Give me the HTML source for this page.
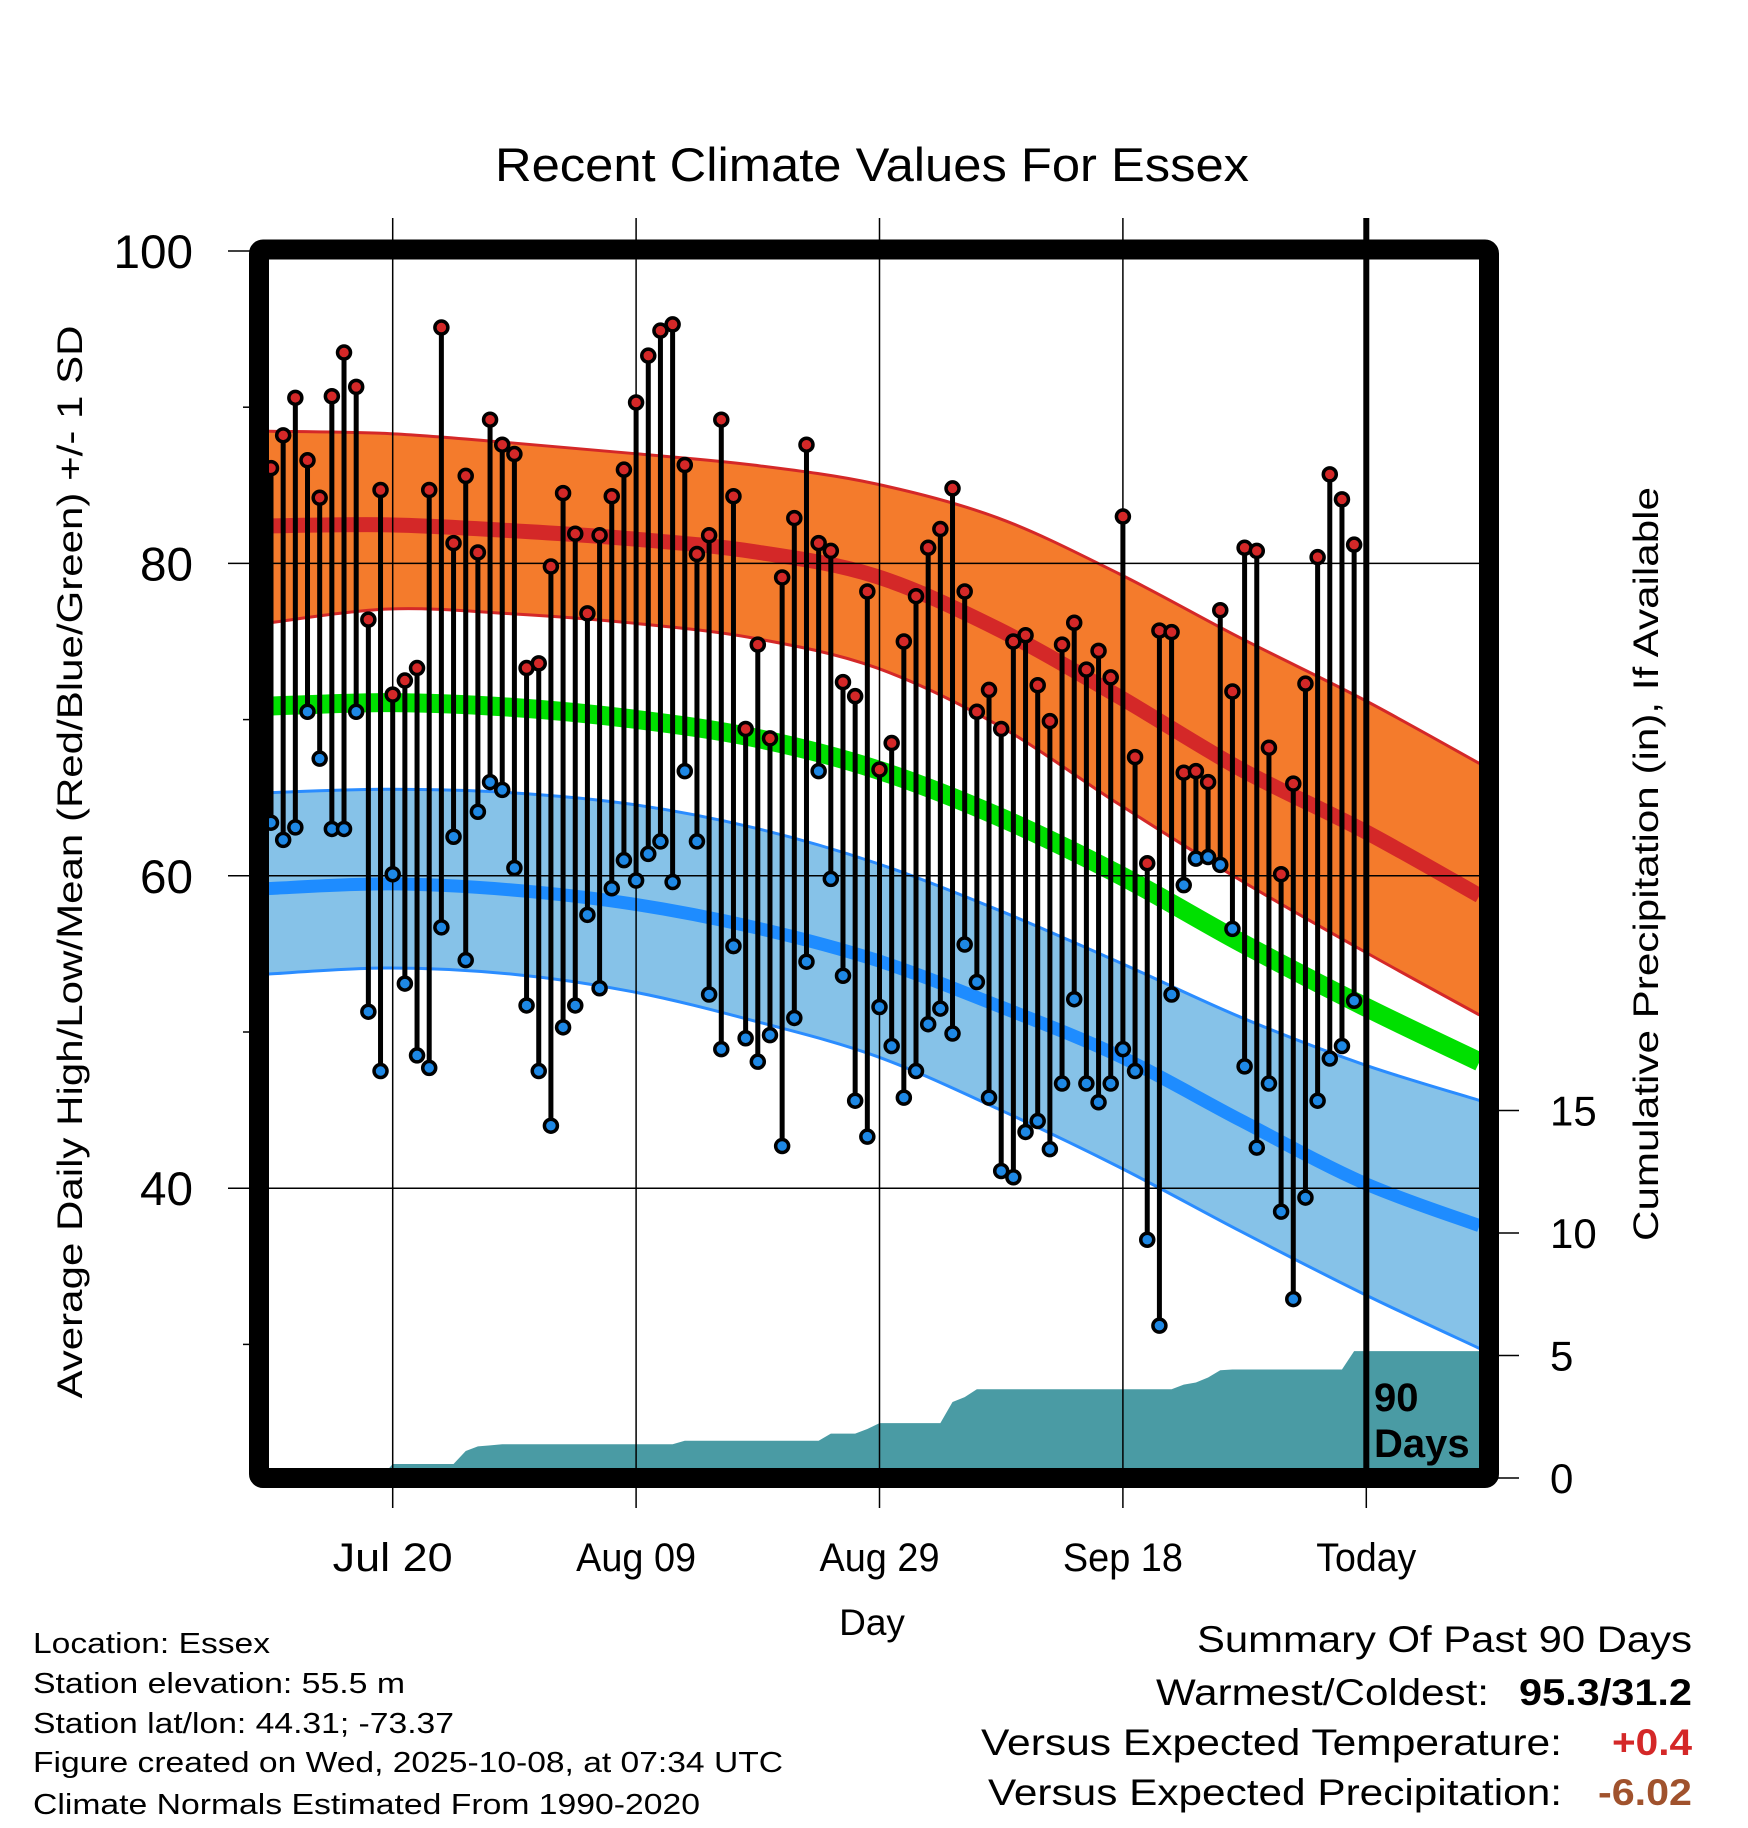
<!DOCTYPE html>
<html><head><meta charset="utf-8"><style>
html,body{margin:0;padding:0;background:#fff;}
svg{display:block;font-family:"Liberation Sans",Arial,sans-serif;}
</style></head><body>
<svg id="chart" width="1748" height="1828" viewBox="0 0 1748 1828" xmlns="http://www.w3.org/2000/svg">
<defs><clipPath id="plotclip"><rect x="269" y="260" width="1210" height="1208"/></clipPath></defs>
<rect x="0" y="0" width="1748" height="1828" fill="#fff"/>
<text x="872" y="181" font-size="47" text-anchor="middle" textLength="754" lengthAdjust="spacingAndGlyphs">Recent Climate Values For Essex</text>
<g id="bands" clip-path="url(#plotclip)"></g>
<g id="grid"></g>
<g id="marks" clip-path="url(#plotclip)"></g>
<g id="axes"></g>
<text transform="translate(82,862) rotate(-90)" font-size="35" text-anchor="middle" textLength="1073" lengthAdjust="spacingAndGlyphs">Average Daily High/Low/Mean (Red/Blue/Green) +/- 1 SD</text>
<text transform="translate(1658,864) rotate(-90)" font-size="35" text-anchor="middle" textLength="754" lengthAdjust="spacingAndGlyphs">Cumulative Precipitation (in), If Available</text>
<text x="872" y="1635" font-size="37" text-anchor="middle">Day</text>
<g font-size="29">
<text x="33" y="1653" textLength="237" lengthAdjust="spacingAndGlyphs">Location: Essex</text>
<text x="33" y="1693" textLength="372" lengthAdjust="spacingAndGlyphs">Station elevation: 55.5 m</text>
<text x="33" y="1733" textLength="421" lengthAdjust="spacingAndGlyphs">Station lat/lon: 44.31; -73.37</text>
<text x="33" y="1772" textLength="750" lengthAdjust="spacingAndGlyphs">Figure created on Wed, 2025-10-08, at 07:34 UTC</text>
<text x="33" y="1814" textLength="667" lengthAdjust="spacingAndGlyphs">Climate Normals Estimated From 1990-2020</text>
</g>
<g font-size="37">
<text x="1692" y="1652" text-anchor="end" textLength="495" lengthAdjust="spacingAndGlyphs">Summary Of Past 90 Days</text>
<text x="1489" y="1705" text-anchor="end" textLength="333" lengthAdjust="spacingAndGlyphs">Warmest/Coldest:</text>
<text x="1692" y="1705" text-anchor="end" font-weight="bold" textLength="173" lengthAdjust="spacingAndGlyphs">95.3/31.2</text>
<text x="1562" y="1755" text-anchor="end" textLength="581" lengthAdjust="spacingAndGlyphs">Versus Expected Temperature:</text>
<text x="1692" y="1755" text-anchor="end" font-weight="bold" fill="#d42828" textLength="80" lengthAdjust="spacingAndGlyphs">+0.4</text>
<text x="1562" y="1805" text-anchor="end" textLength="574" lengthAdjust="spacingAndGlyphs">Versus Expected Precipitation:</text>
<text x="1692" y="1805" text-anchor="end" font-weight="bold" fill="#a0522d" textLength="94" lengthAdjust="spacingAndGlyphs">-6.02</text>
</g>
</svg>
<script>
// ---- data ----
const highs = [86.1,88.2,90.6,86.6,84.2,90.7,93.5,91.3,76.4,84.7,71.6,72.5,73.3,84.7,95.1,81.3,85.6,80.7,89.2,87.6,87.0,73.3,73.6,79.8,84.5,81.9,76.8,81.8,84.3,86.0,90.3,93.3,94.9,95.3,86.3,80.6,81.8,89.2,84.3,69.4,74.8,68.8,79.1,82.9,87.6,81.3,80.8,72.4,71.5,78.2,66.8,68.5,75.0,77.9,81.0,82.2,84.8,78.2,70.5,71.9,69.4,75.0,75.4,72.2,69.9,74.8,76.2,73.2,74.4,72.7,83.0,67.6,60.8,75.7,75.6,66.6,66.7,66.0,77.0,71.8,81.0,80.8,68.2,60.1,65.9,72.3,80.4,85.7,84.1,81.2];
const lows = [63.4,62.3,63.1,70.5,67.5,63.0,63.0,70.5,51.3,47.5,60.1,53.1,48.5,47.7,56.7,62.5,54.6,64.1,66.0,65.5,60.5,51.7,47.5,44.0,50.3,51.7,57.5,52.8,59.2,61.0,59.7,61.4,62.2,59.6,66.7,62.2,52.4,48.9,55.5,49.6,48.1,49.8,42.7,50.9,54.5,66.7,59.8,53.6,45.6,43.3,51.6,49.1,45.8,47.5,50.5,51.5,49.9,55.6,53.2,45.8,41.1,40.7,43.6,44.3,42.5,46.7,52.1,46.7,45.5,46.7,48.9,47.5,36.7,31.2,52.4,59.4,61.1,61.2,60.7,56.6,47.8,42.6,46.7,38.5,32.9,39.4,45.6,48.3,49.1,52.0];
const precipCum = [0,0,0,0,0,0,0,0,0,0,0.57,0.57,0.57,0.57,0.57,0.57,1.1,1.29,1.33,1.38,1.38,1.38,1.38,1.38,1.38,1.38,1.38,1.38,1.38,1.38,1.38,1.38,1.38,1.38,1.52,1.52,1.52,1.52,1.52,1.52,1.52,1.52,1.52,1.52,1.52,1.52,1.81,1.81,1.81,2.0,2.24,2.24,2.24,2.24,2.24,2.24,3.1,3.3,3.62,3.62,3.62,3.62,3.62,3.62,3.62,3.62,3.62,3.62,3.62,3.62,3.62,3.62,3.62,3.62,3.62,3.81,3.9,4.1,4.4,4.43,4.43,4.43,4.43,4.43,4.43,4.43,4.43,4.43,4.43,5.18];
const normalDays = [-0.3,9.7,19.7,29.7,39.7,49.7,59.7,69.7,79.7,89.7,99.3];
const normHigh = [82.4,82.47,82.1,81.57,80.75,79.18,75.81,71.46,66.82,62.92,58.73];
const normHighUp = [88.46,88.31,87.72,87.04,86.29,85.09,82.92,79.33,75.21,71.31,67.19];
const normHighLo = [76.18,77.08,76.78,76.18,75.21,73.33,69.66,64.57,59.7,55.21,51.09];
const normMean = [70.86,71.09,70.79,70.04,68.84,66.82,63.82,60.07,55.73,51.69,48.09];
const normLow = [59.18,59.48,59.1,58.2,56.7,54.61,51.69,48.46,44.34,40.37,37.6];
const normLowUp = [65.32,65.54,65.32,64.57,63.07,60.82,57.83,54.46,50.94,47.94,45.62];
const normLowLo = [53.71,54.1,53.71,52.58,50.71,48.46,45.09,41.35,37.23,33.26,29.74];
const xTickLabels = ["Jul 20","Aug 09","Aug 29","Sep 18","Today"];
const xTickDays = [10,30,50,70,90];
const yTicks = [100,80,60,40];
const yMinor = [90,70,50,30];
const pTicks = [0,5,10,15];

// ---- scales ----
const NS="http://www.w3.org/2000/svg";
function X(d){return 271+12.17*d;}
function Y(t){return 251+(100-t)*15.62;}
function PY(p){return 1478-p*24.5;}
function mk(tag,attrs,parent){const e=document.createElementNS(NS,tag);for(const k in attrs)e.setAttribute(k,attrs[k]);parent.appendChild(e);return e;}
function pts(vals){return normalDays.map((d,i)=>[X(d),Y(vals[i])]);}
function smooth(p){let s="M"+p[0][0]+","+p[0][1];for(let i=0;i<p.length-1;i++){const p0=p[Math.max(0,i-1)],p1=p[i],p2=p[i+1],p3=p[Math.min(p.length-1,i+2)];const c1=[p1[0]+(p2[0]-p0[0])/6,p1[1]+(p2[1]-p0[1])/6],c2=[p2[0]-(p3[0]-p1[0])/6,p2[1]-(p3[1]-p1[1])/6];s+=" C"+c1[0]+","+c1[1]+" "+c2[0]+","+c2[1]+" "+p2[0]+","+p2[1];}return s;}
function bandPath(up,lo){const a=pts(up),b=pts(lo).reverse();let s=smooth(a);const bs=smooth(b);s+=" L"+bs.slice(1);return s+" Z";}

const bands=document.getElementById('bands');
let e;
e=mk('path',{d:bandPath(normHighUp,normHighLo),fill:'#f47b2c'},bands);


e=mk('path',{d:smooth(pts(normHighUp)),fill:'none',stroke:'#d42828','stroke-width':3},bands);


e=mk('path',{d:smooth(pts(normHighLo)),fill:'none',stroke:'#d42828','stroke-width':3},bands);


e=mk('path',{d:smooth(pts(normHigh)),fill:'none',stroke:'#d42828','stroke-width':15},bands);


e=mk('path',{d:bandPath(normLowUp,normLowLo),fill:'#86c2e8'},bands);


e=mk('path',{d:smooth(pts(normLowUp)),fill:'none',stroke:'#2a8cff','stroke-width':3},bands);


e=mk('path',{d:smooth(pts(normLowLo)),fill:'none',stroke:'#2a8cff','stroke-width':3},bands);


e=mk('path',{d:smooth(pts(normLow)),fill:'none',stroke:'#1e8cff','stroke-width':13},bands);


e=mk('path',{d:smooth(pts(normMean)),fill:'none',stroke:'#00e000','stroke-width':19},bands);



// precip area
let pd="M269,"+PY(precipCum[0]);
precipCum.forEach((v,i)=>{pd+=" L"+X(i)+","+PY(v);});
pd+=" L1479,"+PY(precipCum[precipCum.length-1])+" L1479,1478 L269,1478 Z";
e=mk('path',{d:pd,fill:'#4a9ba4'},bands);



// grid
const grid=document.getElementById('grid');
xTickDays.forEach((d,i)=>{
  const last=i===xTickDays.length-1;
  const g=mk('line',{x1:X(d),x2:X(d),y1:218,y2:1478,stroke:'#000','stroke-width':last?6:1.5},grid);
  
  
});
[80,60,40].forEach(t=>{
  const g=mk('line',{x1:269,x2:1479,y1:Y(t),y2:Y(t),stroke:'#000','stroke-width':1.5},grid);
  
  
});

// marks
const marks=document.getElementById('marks');
highs.forEach((h,i)=>{
  const s=mk('line',{x1:X(i),x2:X(i),y1:Y(h),y2:Y(lows[i]),stroke:'#000','stroke-width':5},marks);
  
  
});
highs.forEach((h,i)=>{
  const c=mk('circle',{cx:X(i),cy:Y(h),r:6.5,fill:'#d42828',stroke:'#000','stroke-width':3.5},marks);
  
  
  const c2=mk('circle',{cx:X(i),cy:Y(lows[i]),r:6.5,fill:'#1e88e5',stroke:'#000','stroke-width':3.5},marks);
  
  
});

// axes
const axes=document.getElementById('axes');
const fr=mk('rect',{x:259,y:249.5,width:1230,height:1228.5,fill:'none',stroke:'#000','stroke-width':20,'stroke-linejoin':'round',rx:4},axes);


yTicks.forEach(t=>{
  const l=mk('line',{x1:228,x2:252,y1:Y(t),y2:Y(t),stroke:'#000','stroke-width':1.5},axes);
  
  
  const s=String(t);
  const tx=mk('text',{x:193,y:Y(t)+17,'font-size':47,'text-anchor':'end',textLength:s.length*26.5,lengthAdjust:'spacingAndGlyphs'},axes);
  tx.textContent=s;
  
  
});
yMinor.forEach(t=>{
  const l=mk('line',{x1:243,x2:252,y1:Y(t),y2:Y(t),stroke:'#000','stroke-width':1.5},axes);
  
  
});
pTicks.forEach(p=>{
  const l=mk('line',{x1:1497,x2:1519,y1:PY(p),y2:PY(p),stroke:'#000','stroke-width':1.5},axes);
  
  
  const tx=mk('text',{x:1550,y:PY(p)+15,'font-size':42},axes);
  tx.textContent=String(p);
  
  
});
xTickDays.forEach((d,i)=>{
  const l=mk('line',{x1:X(d),x2:X(d),y1:1488,y2:1508,stroke:'#000','stroke-width':1.5},axes);
  
  
  const tx=mk('text',{x:X(d),y:1571,'font-size':40,'text-anchor':'middle',textLength:xTickLabels[i].length*20,lengthAdjust:'spacingAndGlyphs'},axes);
  tx.textContent=xTickLabels[i];
  
  
});
const t1=mk('text',{x:1374,y:1411,'font-size':40,'font-weight':'bold'},axes);
t1.textContent="90";


const t2=mk('text',{x:1374,y:1457,'font-size':40,'font-weight':'bold'},axes);
t2.textContent="Days";


</script>
</body></html>
